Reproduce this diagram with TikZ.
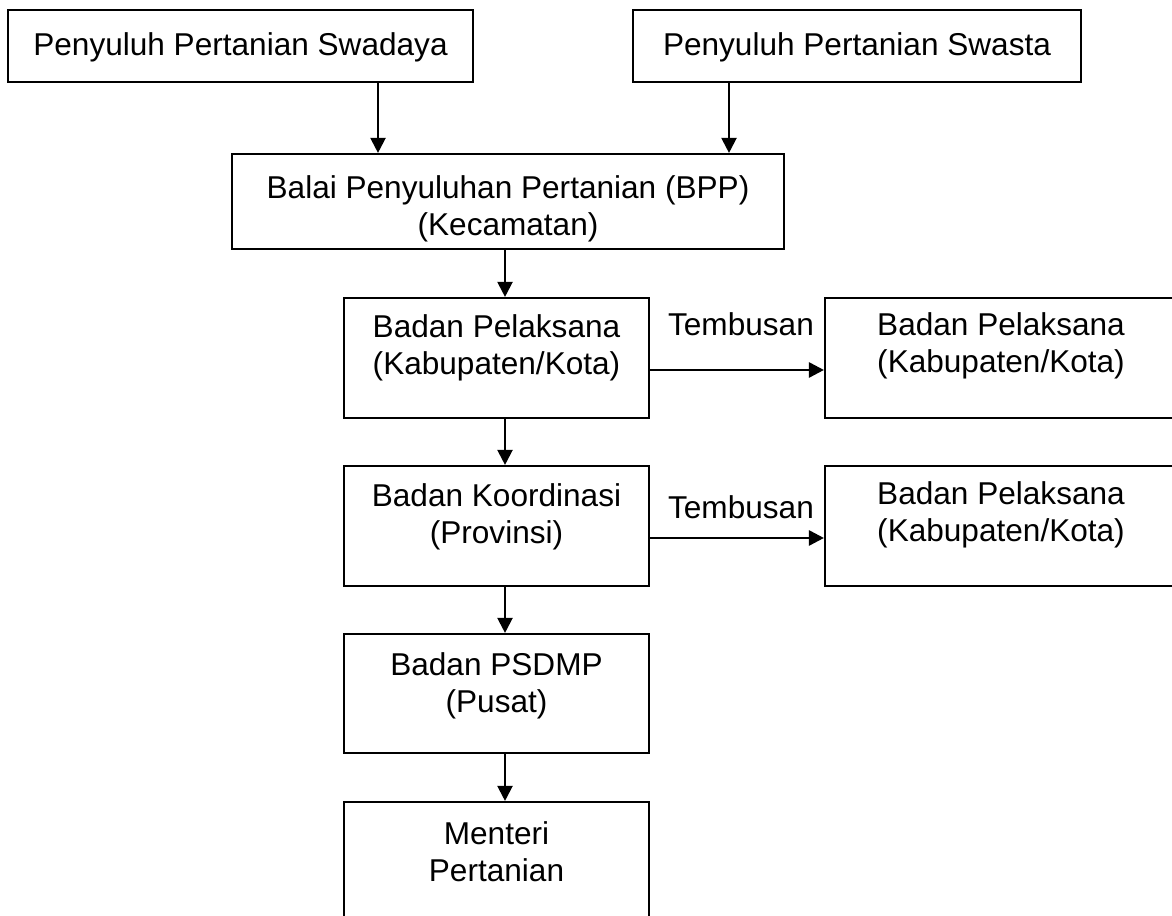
\documentclass[tikz,border=0pt]{standalone}
\usepackage{fontspec}
\setmainfont{Liberation Sans}
\usetikzlibrary{arrows.meta}
\usetikzlibrary{calc}

\tikzset{
  kotak/.style 2 args={draw, line width=0.8pt, minimum width=#1*0.38pt, minimum height=#2*0.38pt, inner sep=0pt},
  isi/.style={anchor=north, align=center, inner sep=0pt, yshift=-#1*0.38pt},
  panah/.style={-{Triangle[length=5.7pt,width=5.7pt]}, line width=0.8pt},
  ket/.style={inner sep=0pt, anchor=south, xshift=1.5pt},
}

\begin{document}
\begin{tikzpicture}[x=0.38pt, y=-0.38pt, font=\fontsize{12}{14}\selectfont]
      \clip (0,0) rectangle (1172,916);
      \fill [white] (0,0) rectangle (1172,916);
      % kotak-kotak
      \node [kotak={465}{72}] (swadaya) at (240.5,46) {};
      \node [kotak={448}{72}] (swasta) at (857,46) {};
      \node [kotak={552}{95}] (bpp) at (508,201.5) {};
      \node [kotak={305}{120}] (pel) at (496.5,358) {};
      \node [kotak={305}{120}] (koord) at (496.5,526) {};
      \node [kotak={305}{119}] (psdmp) at (496.5,693.5) {};
      \node [kotak={305}{120}] (menteri) at (496.5,862) {};
      \node [kotak={352}{120}] (pelA) at (1001,358) {};
      \node [kotak={352}{120}] (pelB) at (1001,526) {};
      % isi
      \node [isi=23] (swadaya-t) at (swadaya.north) {Penyuluh Pertanian Swadaya};
      \node [isi=23] (swasta-t) at (swasta.north) {Penyuluh Pertanian Swasta};
      \node [isi=22] (bpp-t) at (bpp.north) {Balai Penyuluhan Pertanian (BPP)\\(Kecamatan)};
      \node [isi=17] (pel-t) at (pel.north) {Badan Pelaksana\\(Kabupaten/Kota)};
      \node [isi=18] (koord-t) at (koord.north) {Badan Koordinasi\\(Provinsi)};
      \node [isi=19] (psdmp-t) at (psdmp.north) {Badan PSDMP\\(Pusat)};
      \node [isi=20] (menteri-t) at (menteri.north) {Menteri\\Pertanian};
      \node [isi=15] (pelA-t) at (pelA.north) {Badan Pelaksana\\(Kabupaten/Kota)};
      \node [isi=16] (pelB-t) at (pelB.north) {Badan Pelaksana\\(Kabupaten/Kota)};
      % panah
      \coordinate (kiri) at (378,0);
      \coordinate (kanan) at (729,0);
      \coordinate (poros) at (505,0);
      \coordinate (baris1) at (0,370);
      \coordinate (baris2) at (0,538);
      \draw [panah] (swadaya.south -| kiri) -- (bpp.north -| kiri);
      \draw [panah] (swasta.south -| kanan) -- (bpp.north -| kanan);
      \draw [panah] (bpp.south -| poros) -- (pel.north -| poros);
      \draw [panah] (pel.south -| poros) -- (koord.north -| poros);
      \draw [panah] (koord.south -| poros) -- (psdmp.north -| poros);
      \draw [panah] (psdmp.south -| poros) -- (menteri.north -| poros);
      \draw [panah, line width=1pt] (pel.east |- baris1) -- (pelA.west |- baris1) node [ket, midway, above=12.5pt] (tembusan1) {Tembusan};
      \draw [panah, line width=1pt] (koord.east |- baris2) -- (pelB.west |- baris2) node [ket, midway, above=6.8pt] (tembusan2) {Tembusan};
\end{tikzpicture}
\end{document}
